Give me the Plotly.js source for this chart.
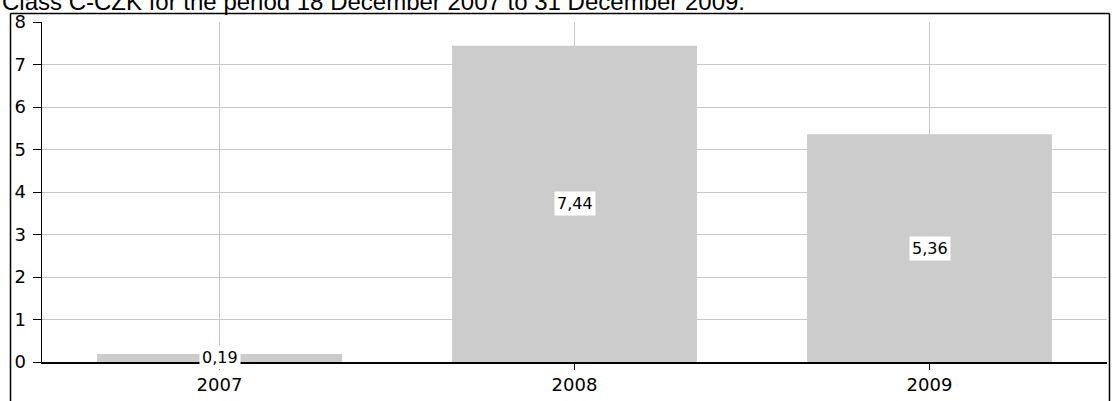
<!DOCTYPE html>
<html>
<head>
<meta charset="utf-8">
<script src="https://cdn.plot.ly/plotly-3.0.1.min.js"></script>
<style>html,body{margin:0;padding:0;background:#fff;overflow:hidden}</style>
</head>
<body>
<div id="chart" style="width:1112px;height:401px"></div>
<script>
const categories = ["2007", "2008", "2009"];
const values = [0.19, 7.44, 5.36];
const valueLabels = ["0,19", "7,44", "5,36"];
const yTicks = [0, 1, 2, 3, 4, 5, 6, 7, 8];
const titleText = "Class C-CZK for the period 18 December 2007 to 31 December 2009.";

const W = 1112, H = 401;
const mL = 42, mR = 5, mT = 22, mB = 39;
const pw = W - mL - mR, ph = H - mT - mB;
const px = x => (x - mL) / pw;
const py = y => (H - mB - y) / ph;

const tickFont = {family: "DejaVu Sans", size: 18, color: "#000"};

const annotations = categories.map((c, i) => ({
  x: i, y: values[i] / 2, xref: "x", yref: "y",
  text: valueLabels[i], showarrow: false,
  bgcolor: "#ffffff", borderpad: 2,
  font: {family: "DejaVu Sans", size: 16, color: "#000"}
}));
annotations.push({
  x: px(0), y: py(2), xref: "paper", yref: "paper",
  xanchor: "left", yanchor: "middle", showarrow: false,
  text: titleText,
  font: {family: "Liberation Sans", size: 24, color: "#000"}
});

const data = [{
  type: "bar", x: categories, y: values,
  marker: {color: "#cccccc", line: {width: 0}},
  hoverinfo: "none"
}];

const layout = {
  width: W, height: H,
  margin: {l: mL, r: mR, t: mT, b: mB, pad: 0},
  paper_bgcolor: "#ffffff", plot_bgcolor: "#ffffff",
  showlegend: false,
  bargap: 0.31,
  xaxis: {
    type: "category", range: [-0.5, 2.5],
    showgrid: true, gridcolor: "#c8c8c8", gridwidth: 1,
    showline: true, linecolor: "#000", linewidth: 1.5,
    ticks: "outside", ticklen: 6, tickcolor: "#000", tickwidth: 1,
    tickfont: tickFont, fixedrange: true
  },
  yaxis: {
    range: [0, 8], tickvals: yTicks, ticktext: yTicks.map(String),
    showgrid: true, gridcolor: "#c8c8c8", gridwidth: 1,
    zeroline: false,
    showline: true, linecolor: "#000", linewidth: 1.5,
    ticks: "outside", ticklen: 8, tickcolor: "#000", tickwidth: 1,
    ticklabelstandoff: 3,
    tickfont: tickFont, fixedrange: true
  },
  shapes: [
    {type: "line", xref: "paper", yref: "paper", x0: px(10.5), x1: px(10.5), y0: py(13.5), y1: py(420), line: {color: "#000", width: 1.5}},
    {type: "line", xref: "paper", yref: "paper", x0: px(1109.5), x1: px(1109.5), y0: py(13.5), y1: py(420), line: {color: "#000", width: 1.5}},
    {type: "line", xref: "paper", yref: "paper", x0: px(10.5), x1: px(1109.5), y0: py(13.5), y1: py(13.5), line: {color: "#000", width: 1.5}}
  ],
  annotations: annotations
};

Plotly.newPlot("chart", data, layout, {displayModeBar: false, staticPlot: true});
</script>
</body>
</html>
